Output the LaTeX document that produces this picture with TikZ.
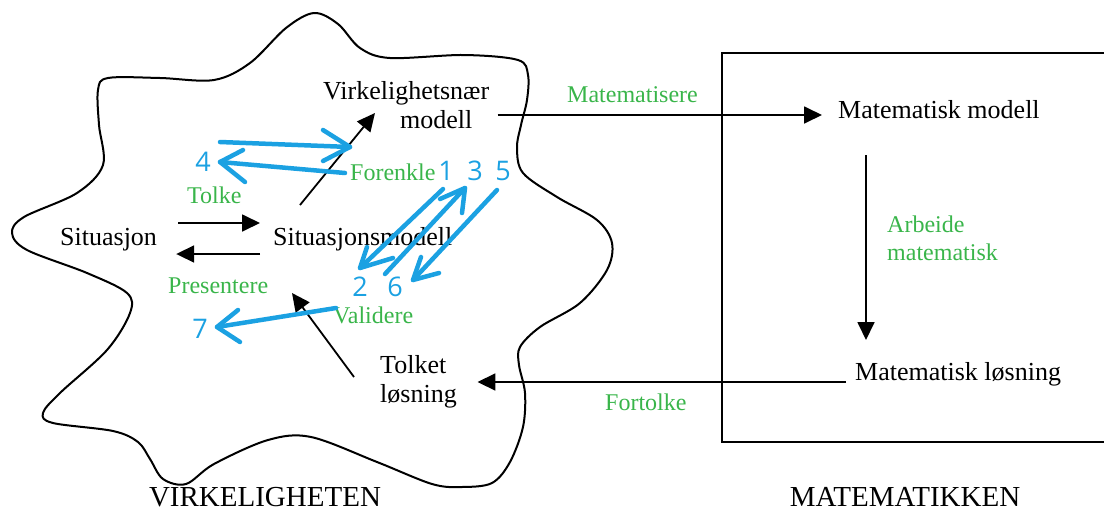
\documentclass[tikz,border=0pt]{standalone}
\usepackage{fontspec}
\setmainfont{Liberation Serif}
\newfontfamily\digitfont{Open Sans}
\usetikzlibrary{arrows.meta}
\definecolor{lblgreen}{RGB}{57,181,74}
\definecolor{penblue}{RGB}{27,161,226}
\begin{document}
\begin{tikzpicture}[x=1pt,y=-1pt,
  lbl/.style={inner sep=0pt, font=\fontsize{26}{30}\selectfont},
  biglbl/.style={inner sep=0pt, font=\fontsize{29}{33}\selectfont},
  grn/.style={inner sep=0pt, text=lblgreen, font=\fontsize{24}{28}\selectfont},
  num/.style={inner sep=0pt, text=penblue, font=\digitfont\fontsize{27}{30}\selectfont},
  conn/.style={line width=1.8pt, -{Triangle[length=18pt,width=17pt]}},
  pen/.style={line width=4.5pt, penblue, line cap=round, line join=round},
  blob/.style={line width=2pt, black, line join=round}]
\useasboundingbox (0,0) rectangle (1104,512);

% reality cloud
\draw[blob] plot[smooth cycle, tension=0.55] coordinates {
  (12,233) (24,217) (77,193) (103,165) (99,125) (98,90) (108,78)
  (160,78) (214,80) (250,63) (286,28) (314,13) (338,24) (360,48)
  (390,58) (464,55) (518,60) (528,75) (527,100) (521,125) (517,148)
  (523,173) (557,197) (597,220) (612,243) (607,270) (580,303) (540,327)
  (520,347) (519,365) (525,393) (523,427) (510,462) (492,483) (462,487)
  (432,484) (377,462) (311,437) (268,440) (214,464) (186,484) (163,479)
  (150,459) (138,442) (113,431) (53,423) (43,413) (60,393) (107,350)
  (130,313) (127,293) (87,273) (27,250)};

% mathematics box (open to the right)
\draw[line width=2pt] (1112,53) -- (722,53) -- (722,442) -- (1112,442);

% black labels
\node[lbl, anchor=base west] (sit) at (60,245) {Situasjon};
\node[lbl, anchor=base west] (sm) at (273,245) {Situasjonsmodell};
\node[lbl, anchor=base west] (vn1) at (323,99) {Virkelighetsnær};
\node[lbl, anchor=base west] (vn2) at (400,128) {modell};
\node[lbl, anchor=base west] (mm) at (838,118) {Matematisk modell};
\node[lbl, anchor=base west] (ml) at (855,380) {Matematisk løsning};
\node[lbl, anchor=base west] (tl1) at (380,373) {Tolket};
\node[lbl, anchor=base west] (tl2) at (380,402) {løsning};
\node[biglbl, anchor=base] (vk) at (265,506) {VIRKELIGHETEN};
\node[biglbl, anchor=base] (mt) at (905,506) {MATEMATIKKEN};

% green labels
\node[grn, anchor=base west] (tolke) at (187,203) {Tolke};
\node[grn, anchor=base west] (forenkle) at (350,180) {Forenkle};
\node[grn, anchor=base west] (presentere) at (168,293) {Presentere};
\node[grn, anchor=base west] (validere) at (333,323) {Validere};
\node[grn, anchor=base west] (matematisere) at (567,102) {Matematisere};
\node[grn, anchor=base west] (fortolke) at (605,410) {Fortolke};
\node[grn, anchor=base west] (arb1) at (887,232) {Arbeide};
\node[grn, anchor=base west] (arb2) at (887,260) {matematisk};

% black connectors
\draw[conn] ([shift={(21,-22)}]sit.base east) -- ([shift={(-13,-22)}]sm.base west);
\draw[conn] ([shift={(-13,9)}]sm.base west) -- ([shift={(19,9)}]sit.base east);
\draw[conn] ([shift={(27,-40)}]sm.base west) -- ([shift={(-25,-15)}]vn2.base west);
\draw[conn] ([shift={(25,-13)}]vn2.base east) -- ([shift={(-16,-3)}]mm.base west);
\draw[conn] ([shift={(28,37)}]mm.base west) -- ([shift={(11,-40)}]ml.base west);
\draw[conn] ([shift={(-9,2)}]ml.base west) -- ([shift={(31,9)}]tl1.base east);
\draw[conn] ([shift={(-26,4)}]tl1.base west) -- ([shift={(19,48)}]sm.base west);

% blue handwritten numbers
\node[num, anchor=base] (d4) at (203,171) {4};
\node[num, anchor=base] (d1) at (446,180) {1};
\node[num, anchor=base] (d3) at (475,180) {3};
\node[num, anchor=base] (d5) at (503,180) {5};
\node[num, anchor=base] (d2) at (360,296) {2};
\node[num, anchor=base] (d6) at (395,296) {6};
\node[num, anchor=base] (d7) at (200,338) {7};

% blue handwritten arrows
\draw[pen] (220,142) -- (350,147);
\draw[pen] (323,130) -- (350,147) -- (323,161);
\draw[pen] (345,173) -- (220,162);
\draw[pen] (243,150) -- (220,162) -- (245,182);
\draw[pen] (443,189) -- (360,268);
\draw[pen] (367,247) -- (360,268) -- (393,258);
\draw[pen] (385,274) -- (465,188);
\draw[pen] (440,199) -- (465,188) -- (462,213);
\draw[pen] (497,190) -- (413,280);
\draw[pen] (421,257) -- (413,280) -- (439,273);
\draw[pen] (336,308) -- (217,327);
\draw[pen] (238,310) -- (217,327) -- (240,342);
\end{tikzpicture}
\end{document}
